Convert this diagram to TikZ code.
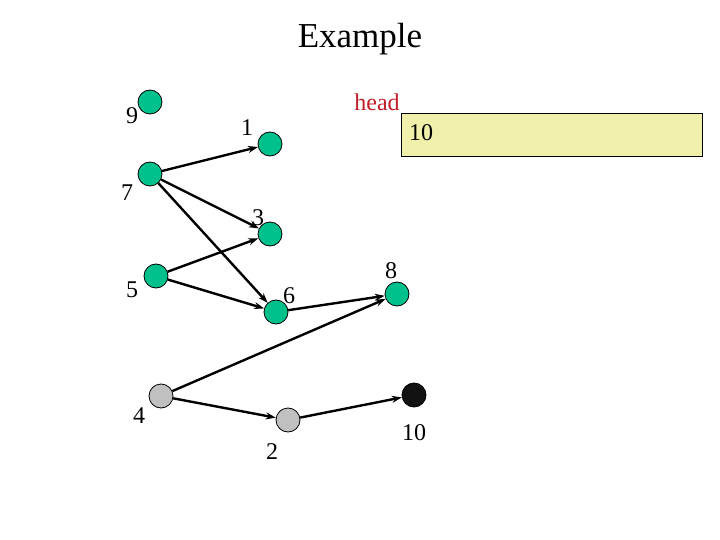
\documentclass[tikz,border=0pt]{standalone}
\usepackage{fontspec}
\setmainfont{Liberation Serif}
\usetikzlibrary{arrows.meta}
\definecolor{vgreen}{RGB}{0,192,140}
\definecolor{vgray}{RGB}{192,192,192}
\definecolor{vblack}{RGB}{18,18,18}
\definecolor{boxyellow}{RGB}{240,240,170}
\definecolor{headred}{RGB}{192,30,40}
\newcommand{\lblsize}{\fontsize{24}{28}\selectfont}
\newcommand{\titlesize}{\fontsize{35}{40}\selectfont}
\tikzset{vtx/.style={circle,draw=black,line width=0.8pt,minimum size=24pt,inner sep=0pt,fill=vgreen},
  lbl/.style={font=\lblsize,inner sep=0pt},
  link/.style={line width=2.4pt,-{Stealth[length=10pt,width=7pt]}}}

\begin{document}
\begin{tikzpicture}[x=1pt,y=-1pt]
 \useasboundingbox (0,0) rectangle (720,540);
 \node[font=\titlesize,inner sep=0pt,anchor=base] (title) at (360,48) {Example};

 % the list
 \node[vtx] (v9) at (150,102) {};
 \node[vtx] (v7) at (150,174) {};
 \node[vtx] (v1) at (270,144) {};
 \node[vtx] (v3) at (270,234) {};
 \node[vtx] (v5) at (156,276) {};
 \node[vtx] (v6) at (276,312) {};
 \node[vtx] (v8) at (397,294) {};
 \node[vtx,fill=vgray] (v4) at (161,396) {};
 \node[vtx,fill=vgray] (v2) at (288,420) {};
 \node[vtx,fill=vblack] (v10) at (414,395) {};

 \node[lbl] (l9) at (132,116) {9};
 \node[lbl] (l7) at (127,193) {7};
 \node[lbl] (l1) at (247,128) {1};
 \node[lbl] (l3) at (258,218) {3};
 \node[lbl] (l5) at (132,290) {5};
 \node[lbl] (l6) at (289,296) {6};
 \node[lbl] (l8) at (391,271) {8};
 \node[lbl] (l4) at (139,416) {4};
 \node[lbl] (l2) at (272,452) {2};
 \node[lbl] (l10) at (414,433) {10};

 \draw[link] (v7) -- (v1);
 \draw[link] (v7) -- (v3);
 \draw[link] (v7) -- (v6);
 \draw[link] (v5) -- (v3);
 \draw[link] (v5) -- (v6);
 \draw[link] (v6) -- (v8);
 \draw[link] (v4) -- (v8);
 \draw[link] (v4) -- (v2);
 \draw[link] (v2) -- (v10);

 % head pointer
 \node[lbl,text=headred] (head) at (377,102) {head};
 \node[draw=black,line width=0.8pt,fill=boxyellow,minimum width=301pt,minimum height=43pt,inner sep=0pt] (headbox) at (552,135) {};
 \node[lbl] (headval) at (421,133) {10};

\end{tikzpicture}
\end{document}
